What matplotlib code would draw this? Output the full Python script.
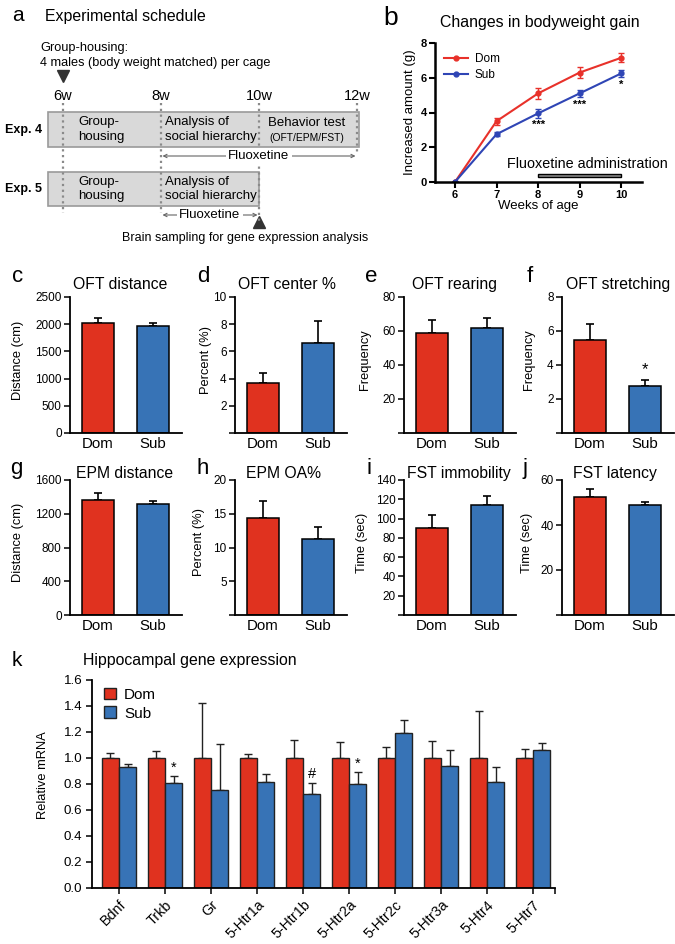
import matplotlib
matplotlib.use('Agg')
import matplotlib.pyplot as plt
from matplotlib.patches import Rectangle, Patch
from matplotlib.lines import Line2D

plt.rcParams['font.family'] = ['Liberation Sans', 'DejaVu Sans']
plt.rcParams['axes.linewidth'] = 1.3

W, H = 675, 944
fig = plt.figure(figsize=(W / 100, H / 100), dpi=100)


def px_ax(x0, y0, x1, y1):
    return fig.add_axes([x0 / W, 1 - y1 / H, (x1 - x0) / W, (y1 - y0) / H])


def ftext(x, y, s, **kw):
    return fig.text(x / W, 1 - y / H, s, **kw)


RED = '#E0321F'
BLUE = '#3773B6'
LRED = '#E8312A'
LBLUE = '#2F45B5'

# ---------------- data ----------------
groups = ['Dom', 'Sub']

# panel a (schedule)
sched_weeks = [6, 8, 10, 12]
sched_labels = ['6w', '8w', '10w', '12w']
exp_names = ['Exp. 4', 'Exp. 5']
exp_box_span = [(5.7, 12.05), (5.7, 10.0)]
exp4_phases = ['Group-\nhousing', 'Analysis of\nsocial hierarchy', 'Behavior test']
exp5_phases = ['Group-\nhousing', 'Analysis of\nsocial hierarchy']
exp4_fluox = (8, 12)
exp5_fluox = (8, 10)

# panel b
weeks = [6, 7, 8, 9, 10]
dom_gain = [0.0, 3.5, 5.1, 6.3, 7.15]
dom_gain_err = [0.0, 0.2, 0.3, 0.3, 0.27]
sub_gain = [0.0, 2.75, 3.95, 5.1, 6.25]
sub_gain_err = [0.0, 0.12, 0.25, 0.2, 0.2]
gain_sig_weeks = [8, 9, 10]
gain_sig_marks = ['***', '***', '*']
fluox_weeks = (8, 10)

# panels c-j
oft_distance = [2020, 1965]
oft_distance_err = [90, 55]
oft_center = [3.7, 6.6]
oft_center_err = [0.7, 1.6]
oft_rearing = [58.8, 61.8]
oft_rearing_err = [7.7, 5.8]
oft_stretching = [5.47, 2.76]
oft_stretching_err = [0.93, 0.34]
epm_distance = [1363, 1315]
epm_distance_err = [83, 36]
epm_oa = [14.4, 11.3]
epm_oa_err = [2.5, 1.7]
fst_immobility = [90, 114]
fst_immobility_err = [13.7, 9.4]
fst_latency = [52.4, 48.9]
fst_latency_err = [3.6, 1.3]

# panel k
genes = ['Bdnf', 'Trkb', 'Gr', '5-Htr1a', '5-Htr1b', '5-Htr2a', '5-Htr2c',
         '5-Htr3a', '5-Htr4', '5-Htr7']
dom_mrna = [1.0, 1.0, 1.0, 1.0, 1.0, 1.0, 1.0, 1.0, 1.0, 1.0]
dom_mrna_err = [0.035, 0.055, 0.42, 0.03, 0.14, 0.12, 0.085, 0.13, 0.36, 0.07]
sub_mrna = [0.93, 0.81, 0.755, 0.815, 0.725, 0.80, 1.19, 0.94, 0.815, 1.06]
sub_mrna_err = [0.025, 0.05, 0.35, 0.06, 0.085, 0.09, 0.10, 0.12, 0.115, 0.055]
mrna_sig_idx = [1, 4, 5]
mrna_sig_marks = ['*', '#', '*']

# ---------------- panel a ----------------
ax = px_ax(0, 0, 400, 250)
ax.set_xlim(4.714, 12.878)
ax.set_ylim(250, 0)
ax.axis('off')
ftext(12, 21, 'a', fontsize=15, va='baseline')
ftext(45, 21, 'Experimental schedule', fontsize=11.4, va='baseline')
ftext(40, 48, 'Group-housing:', fontsize=9.2, va='center')
ftext(40, 63, '4 males (body weight matched) per cage', fontsize=9.2, va='center')
ax.plot([sched_weeks[0]], [76], marker='v', color='#333333', markersize=8)

box_y = [(112, 147), (172, 206)]
for (w0, w1), (y0, y1), name in zip(exp_box_span, box_y, exp_names):
    ax.add_patch(Rectangle((w0, y0), w1 - w0, y1 - y0, facecolor='#d9d9d9',
                           edgecolor='#9a9a9a', lw=1.2, zorder=1))
    ax.text(4.82, (y0 + y1) / 2, name, fontsize=9, fontweight='bold',
            va='center', ha='left')

dot_ends = [213, 213, 222, 152]
for w, lab, ye in zip(sched_weeks, sched_labels, dot_ends):
    ax.text(w, 96, lab, fontsize=10.5, ha='center', va='center')
    ax.plot([w, w], [103, ye], color='#8a8a8a', lw=1.6, ls=(0, (1, 1.6)), zorder=3)

# phase texts
ax.text(6.31, 129.5, exp4_phases[0], fontsize=9.5, va='center', ha='left', linespacing=1.25)
ax.text(8.08, 129.5, exp4_phases[1], fontsize=9.5, va='center', ha='left', linespacing=1.25)
ax.text(10.98, 123, exp4_phases[2], fontsize=9.5, va='center', ha='center')
ax.text(10.98, 138, '(OFT/EPM/FST)', fontsize=7.4, va='center', ha='center')
ax.text(6.31, 189, exp5_phases[0], fontsize=9.5, va='center', ha='left', linespacing=1.25)
ax.text(8.08, 189, exp5_phases[1], fontsize=9.5, va='center', ha='left', linespacing=1.25)

for (w0, w1), y in [(exp4_fluox, 156), (exp5_fluox, 215)]:
    ax.annotate('', xy=(w1 - 0.03, y), xytext=(w0 + 0.03, y),
                arrowprops=dict(arrowstyle='<->', color='#666666', lw=0.8,
                                mutation_scale=6, shrinkA=0, shrinkB=0))
    ax.text((w0 + w1) / 2, y, 'Fluoxetine', fontsize=9.5, ha='center', va='center',
            bbox=dict(facecolor='white', edgecolor='none', pad=1.5))
ax.plot([exp5_fluox[1]], [222], marker='^', color='#333333', markersize=9)
ftext(122, 238, 'Brain sampling for gene expression analysis', fontsize=9, va='center')

# ---------------- panel b ----------------
ftext(383, 25, 'b', fontsize=19, va='baseline')
ftext(540, 27, 'Changes in bodyweight gain', fontsize=11.4, ha='center', va='baseline')
ax = px_ax(435, 43, 642, 182)
ax.errorbar(weeks, dom_gain, yerr=dom_gain_err, color=LRED, marker='o', markersize=3.5,
            lw=1.5, capsize=2.5, elinewidth=1, label='Dom')
ax.errorbar(weeks, sub_gain, yerr=sub_gain_err, color=LBLUE, marker='o', markersize=3.5,
            lw=1.5, capsize=2.5, elinewidth=1, label='Sub')
ax.set_xlim(5.52, 10.5)
ax.set_ylim(0, 8)
ax.set_xticks(weeks)
ax.set_yticks([0, 2, 4, 6, 8])
for lab in ax.get_xticklabels() + ax.get_yticklabels():
    lab.set_fontweight('bold')
ax.tick_params(labelsize=8, length=4, width=1.5, pad=2)
for s in ['top', 'right']:
    ax.spines[s].set_visible(False)
for s in ['left', 'bottom']:
    ax.spines[s].set_linewidth(1.8)
ax.set_ylabel('Increased amount (g)', fontsize=9.5, labelpad=3)
ax.set_xlabel('Weeks of age', fontsize=9.5, labelpad=0)
for w, m in zip(gain_sig_weeks, gain_sig_marks):
    i = weeks.index(w)
    ax.text(w, sub_gain[i] - sub_gain_err[i] - 0.15, m, fontsize=8, fontweight='bold',
            ha='center', va='top')
ax.add_patch(Rectangle((fluox_weeks[0], 0.27), fluox_weeks[1] - fluox_weeks[0], 0.17,
                       facecolor='#8c8c8c', edgecolor='black', lw=1, clip_on=False))
ax.text(9.18, 1.05, 'Fluoxetine administration', fontsize=10.4, ha='center', va='center',
        clip_on=False)
leg_handles = [Line2D([0], [0], color=LRED, marker='o', markersize=3.5, lw=1.5),
               Line2D([0], [0], color=LBLUE, marker='o', markersize=3.5, lw=1.5)]
ax.legend(leg_handles, groups, loc='upper left', bbox_to_anchor=(0.01, 0.98), frameon=False,
          fontsize=8.5, handlelength=2.0, borderaxespad=0.2, labelspacing=0.35,
          handletextpad=0.6)

# ---------------- panels c-j ----------------
row_y = [(297, 433), (480, 615)]
col_x = [(70, 182), (235, 347), (404, 516), (562, 674)]

panels = [
    ('c', 0, 0, oft_distance, oft_distance_err, 2500, [0, 500, 1000, 1500, 2000, 2500],
     ['0', '500', '1000', '1500', '2000', '2500'], 'Distance (cm)', 18, 'OFT distance', 120, 12, None),
    ('d', 0, 1, oft_center, oft_center_err, 10, [0, 2, 4, 6, 8, 10],
     ['', '2', '4', '6', '8', '10'], 'Percent (%)', 206, 'OFT center %', 287, 197, None),
    ('e', 0, 2, oft_rearing, oft_rearing_err, 80, [0, 20, 40, 60, 80],
     ['', '20', '40', '60', '80'], 'Frequency', 365, 'OFT rearing', 455, 365, None),
    ('f', 0, 3, oft_stretching, oft_stretching_err, 8, [0, 2, 4, 6, 8],
     ['', '2', '4', '6', '8'], 'Frequency', 529, 'OFT stretching', 618, 527, '*'),
    ('g', 1, 0, epm_distance, epm_distance_err, 1600, [0, 400, 800, 1200, 1600],
     ['0', '400', '800', '1200', '1600'], 'Distance (cm)', 18, 'EPM distance', 125, 10, None),
    ('h', 1, 1, epm_oa, epm_oa_err, 20, [0, 5, 10, 15, 20],
     ['', '5', '10', '15', '20'], 'Percent (%)', 199, 'EPM OA%', 284, 196, None),
    ('i', 1, 2, fst_immobility, fst_immobility_err, 140, [0, 20, 40, 60, 80, 100, 120, 140],
     ['', '20', '40', '60', '80', '100', '120', '140'], 'Time (sec)', 362, 'FST immobility', 459, 367, None),
    ('j', 1, 3, fst_latency, fst_latency_err, 60, [0, 20, 40, 60],
     ['', '20', '40', '60'], 'Time (sec)', 527, 'FST latency', 615, 523, None),
]

letter_base = [282, 474]
title_base = [289, 478]
for (letter, r, c, vals, errs, ymax, yt, ytl, ylab, ylx, title, tx, lx, sig) in panels:
    x0, x1 = col_x[c]
    y0, y1 = row_y[r]
    ax = px_ax(x0, y0, x1, y1)
    xs = [0, 1]
    ax.bar(xs, vals, width=0.58, color=[RED, BLUE], edgecolor='black', lw=1.1, zorder=2)
    ax.errorbar(xs, vals, yerr=[[0, 0], errs], fmt='none', ecolor='black', elinewidth=1.2,
                capsize=3.2, capthick=1.2, zorder=1)
    ax.set_xlim(-0.51, 1.53)
    ax.set_ylim(0, ymax)
    ax.set_yticks(yt)
    ax.set_yticklabels(ytl)
    if ytl[0] == '0':
        ax.get_yticklabels()[0].set_fontsize(7)
    ax.set_xticks(xs)
    ax.set_xticklabels(groups, fontsize=10.8)
    ax.tick_params(axis='x', length=0, pad=3)
    ax.tick_params(axis='y', labelsize=8.5, length=4, width=1.1, pad=2)
    for s in ['top', 'right']:
        ax.spines[s].set_visible(False)
    ftext(ylx, (y0 + y1) / 2 - 5, ylab, fontsize=9.3, rotation=90, ha='center', va='center')
    ftext(tx, title_base[r], title, fontsize=11.3, ha='center', va='baseline')
    ftext(lx, letter_base[r], letter, fontsize=16, va='baseline')
    if sig:
        ax.text(1, vals[1] + errs[1] + ymax * 0.02, sig, fontsize=12, ha='center', va='bottom')

# ---------------- panel k ----------------
ftext(12, 666, 'k', fontsize=15, va='baseline')
ftext(83, 665, 'Hippocampal gene expression', fontsize=11.4, va='baseline')
ax = px_ax(92, 680, 555, 888)
idx = list(range(len(genes)))
bw = 0.37
xd = [i - bw / 2 for i in idx]
xsub = [i + bw / 2 for i in idx]
ax.bar(xd, dom_mrna, width=bw, color=RED, edgecolor='#222222', lw=1, zorder=2)
ax.bar(xsub, sub_mrna, width=bw, color=BLUE, edgecolor='#222222', lw=1, zorder=2)
ax.errorbar(xd, dom_mrna, yerr=[[0] * len(genes), dom_mrna_err], fmt='none', ecolor='#222222',
            elinewidth=1, capsize=3, capthick=1, zorder=1)
ax.errorbar(xsub, sub_mrna, yerr=[[0] * len(genes), sub_mrna_err], fmt='none', ecolor='#222222',
            elinewidth=1, capsize=3, capthick=1, zorder=1)
for i, m in zip(mrna_sig_idx, mrna_sig_marks):
    ax.text(xsub[i], sub_mrna[i] + sub_mrna_err[i] + 0.01, m, fontsize=10.5,
            ha='center', va='bottom')
ax.set_xlim(-0.587, 9.478)
ax.set_ylim(0, 1.6)
ax.set_yticks([0.0, 0.2, 0.4, 0.6, 0.8, 1.0, 1.2, 1.4, 1.6])
ax.set_yticklabels(['%.1f' % v for v in ax.get_yticks()])
ax.set_xticks(idx)
ax.set_xticklabels(genes, rotation=45, ha='right', rotation_mode='anchor', fontsize=10.3)
ax.set_xticks([9.478], minor=True)
ax.tick_params(axis='x', which='both', length=4, width=1.1, pad=3)
ax.tick_params(axis='y', labelsize=9.6, length=4, width=1.1, pad=3)
for s in ['top', 'right']:
    ax.spines[s].set_visible(False)
ftext(43, 775, 'Relative mRNA', fontsize=9.3, rotation=90, ha='center', va='center')
ax.legend([Patch(facecolor=RED, edgecolor='#222222'), Patch(facecolor=BLUE, edgecolor='#222222')],
          groups, loc='upper left', bbox_to_anchor=(0.01, 1.0), frameon=False, fontsize=11,
          handlelength=0.8, handleheight=0.8, handletextpad=0.5, labelspacing=0.3,
          borderaxespad=0.1)

fig.savefig('out.png', dpi=100)
